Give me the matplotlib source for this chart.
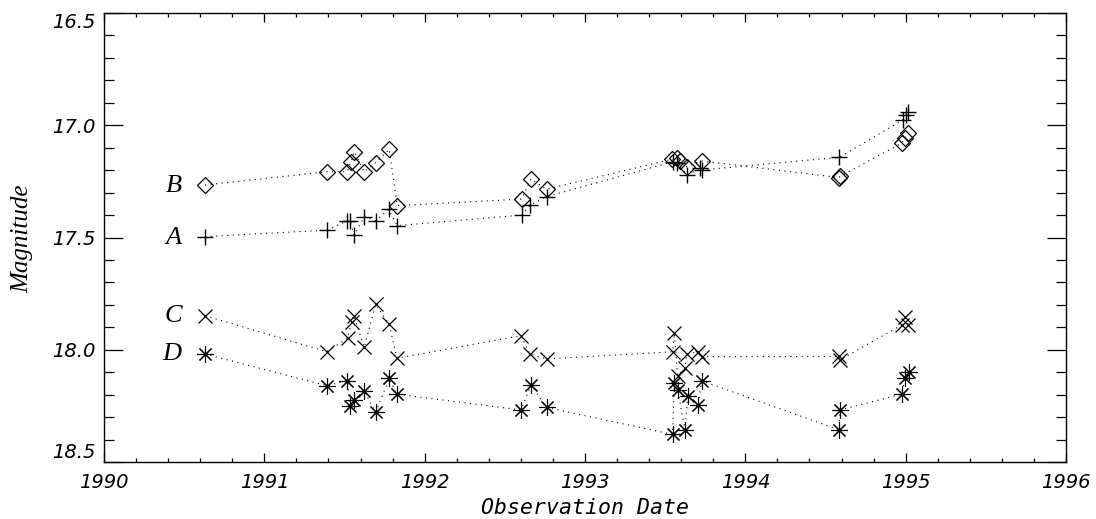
import numpy as np
import matplotlib
matplotlib.use("Agg")
import matplotlib.pyplot as plt
from matplotlib.ticker import MultipleLocator, FormatStrFormatter

# Light curves of the four images (date in years, magnitude)
a_date = [1990.63, 1991.393, 1991.517, 1991.534, 1991.561, 1991.623, 1991.696, 1991.775, 1991.829,
          1992.605, 1992.657, 1992.760, 1993.551, 1993.571, 1993.638, 1993.717, 1993.727,
          1994.586, 1994.981, 1995.002, 1995.017]
a_mag = [17.496, 17.467, 17.425, 17.425, 17.489, 17.407, 17.425, 17.375, 17.447,
         17.400, 17.355, 17.318, 17.162, 17.170, 17.222, 17.192, 17.199,
         17.143, 16.977, 16.954, 16.940]

b_date = [1990.63, 1991.389, 1991.517, 1991.540, 1991.561, 1991.623, 1991.694, 1991.779, 1991.829,
          1992.605, 1992.663, 1992.760, 1993.540, 1993.571, 1993.593, 1993.634, 1993.727,
          1994.586, 1994.590, 1994.975, 1994.996, 1995.017]
b_mag = [17.266, 17.207, 17.207, 17.165, 17.118, 17.207, 17.167, 17.107, 17.358,
         17.329, 17.239, 17.285, 17.152, 17.147, 17.158, 17.185, 17.159,
         17.233, 17.228, 17.080, 17.058, 17.036]

c_date = [1990.63, 1991.389, 1991.519, 1991.544, 1991.559, 1991.623, 1991.694, 1991.779, 1991.827,
          1992.601, 1992.657, 1992.760, 1993.546, 1993.557, 1993.578, 1993.624, 1993.634,
          1993.706, 1993.727, 1994.586, 1994.590, 1994.975, 1994.996, 1995.017]
c_mag = [17.848, 18.009, 17.949, 17.878, 17.848, 17.989, 17.798, 17.887, 18.038,
         17.937, 18.020, 18.041, 18.009, 17.927, 18.115, 18.083, 18.019,
         18.009, 18.031, 18.030, 18.045, 17.890, 17.853, 17.890]

d_date = [1990.63, 1991.389, 1991.517, 1991.534, 1991.559, 1991.623, 1991.694, 1991.779, 1991.825,
          1992.601, 1992.663, 1992.760, 1993.546, 1993.557, 1993.578, 1993.624, 1993.640,
          1993.706, 1993.727, 1994.586, 1994.590, 1994.975, 1994.996, 1995.023]
d_mag = [18.019, 18.160, 18.138, 18.249, 18.224, 18.184, 18.279, 18.128, 18.198,
         18.268, 18.157, 18.257, 18.377, 18.150, 18.179, 18.358, 18.206,
         18.246, 18.138, 18.357, 18.268, 18.198, 18.128, 18.098]

labels = ["B", "A", "C", "D"]
label_mag = [17.27, 17.5, 17.85, 18.02]

fig = plt.figure(figsize=(10.96, 5.19), dpi=100)
ax = fig.add_axes([104 / 1096, 57 / 519, 962 / 1096, 449 / 519])

dot = (0, (1, 4))
line_kw = dict(color="black", linestyle=dot, linewidth=0.8)

ax.plot(b_date, b_mag, **line_kw)
ax.plot(b_date, b_mag, linestyle="none", marker="D", markersize=8,
        markerfacecolor="none", markeredgecolor="black", markeredgewidth=0.9)

ax.plot(a_date, a_mag, **line_kw)
ax.plot(a_date, a_mag, linestyle="none", marker="+", markersize=12,
        markeredgecolor="black", markeredgewidth=1.0)

ax.plot(c_date, c_mag, **line_kw)
ax.plot(c_date, c_mag, linestyle="none", marker="x", markersize=10,
        markeredgecolor="black", markeredgewidth=0.9)

ax.plot(d_date, d_mag, **line_kw)
ax.plot(d_date, d_mag, linestyle="none", marker=(8, 2, 0), markersize=12,
        markeredgecolor="black", markeredgewidth=0.8)

for lab, m in zip(labels, label_mag):
    ax.text(1990.485, m, lab, ha="right", va="center", fontsize=19,
            family="Liberation Serif", style="italic")

ax.set_xlim(1990, 1996)
ax.set_ylim(18.5, 16.5)
ax.xaxis.set_major_locator(MultipleLocator(1))
ax.xaxis.set_minor_locator(MultipleLocator(0.2))
ax.yaxis.set_major_locator(MultipleLocator(0.5))
ax.yaxis.set_minor_locator(MultipleLocator(0.1))
ax.yaxis.set_major_formatter(FormatStrFormatter("%.1f"))

ax.tick_params(axis="both", which="both", direction="in", top=True, right=True,
               color="black", width=0.9)
ax.tick_params(axis="x", which="major", length=6.5, pad=8)
ax.tick_params(axis="x", which="minor", length=3.2)
ax.tick_params(axis="y", which="major", length=13.5, pad=6)
ax.tick_params(axis="y", which="minor", length=7)
for s in ax.spines.values():
    s.set_linewidth(1.0)

fig.canvas.draw()
for t in ax.get_xticklabels() + ax.get_yticklabels():
    t.set_fontsize(14)
    t.set_fontstyle("oblique")
    t.set_family("DejaVu Sans")

# the end labels of the magnitude axis sit inside the frame, as in the original
ylabels = ax.get_yticklabels()
for t in ylabels:
    if t.get_text() == "16.5":
        t.set_va("top")
    elif t.get_text() == "18.5":
        t.set_va("bottom")

fig.text(585 / 1096, 11 / 519, "Observation Date", ha="center", va="center",
         fontsize=15.5, style="oblique", family="DejaVu Sans Mono")
fig.text(22 / 1096, 0.54, "Magnitude", ha="center", va="center", rotation=90,
         fontsize=18, style="italic", family="Liberation Serif")

fig.savefig("out.png", dpi=100, facecolor="white")
